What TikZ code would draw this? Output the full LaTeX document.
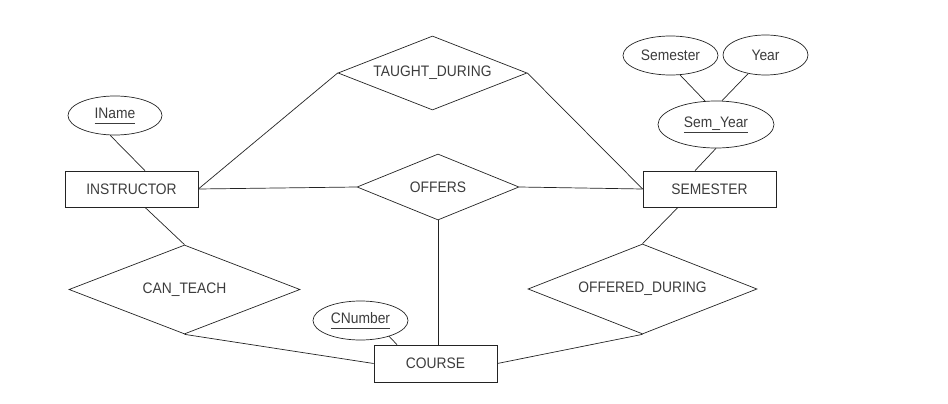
\documentclass[tikz,border=0pt]{standalone}
\usepackage{fontspec}
\setmainfont{Liberation Sans}[FakeStretch=0.91]
\usetikzlibrary{shapes.geometric}
\definecolor{erline}{RGB}{35,35,35}
\definecolor{ertext}{RGB}{60,60,60}
\newcommand{\keyattr}[1]{\underline{#1\vphantom{y}}}

\begin{document}
\begin{tikzpicture}[x=1pt,y=-1pt,font=\fontsize{15.2}{17}\selectfont,
base/.style={draw=erline,line width=0.7pt,inner sep=1pt,text=ertext},
entity/.style={base,rectangle,minimum width=133pt,minimum height=36pt},
attr/.style={base,ellipse,minimum width=94pt,minimum height=39pt},
rel/.style={base,diamond,aspect=2.5},
link/.style={draw=erline,line width=0.7pt}]
\useasboundingbox (0,0) rectangle (948,404);
% entities
\node[entity] (inst) at (131.5,189) {INSTRUCTOR};
\node[entity] (sem) at (709.5,189) {SEMESTER};
\node[entity,minimum width=123pt,minimum height=37pt] (course) at (435.5,363.5) {COURSE};
% attributes
\node[attr] (iname) at (115,115.5) {\keyattr{IName}};
\node[attr,minimum width=95pt] (cnum) at (360.5,320.5) {\keyattr{CNumber}};
\node[attr,minimum width=95pt] (semname) at (670.5,55.5) {Semester};
\node[attr,minimum width=85pt,minimum height=40pt] (year) at (765.5,55) {Year};
\node[attr,minimum width=116pt,minimum height=47pt] (semyear) at (716,124.5) {\keyattr{Sem\_Year}};
% relationships
\node[rel,minimum width=189pt,minimum height=74pt] (taught) at (432.5,73) {TAUGHT\_DURING};
\node[rel,minimum width=162pt,minimum height=66pt] (offers) at (438,187) {OFFERS};
\node[rel,minimum width=231pt,minimum height=89pt] (canteach) at (184.5,289.5) {CAN\_TEACH};
\node[rel,minimum width=229pt,minimum height=90pt] (offdur) at (642.5,289) {OFFERED\_DURING};
% connectors
\draw[link] (iname.-104) -- ([xshift=13.5pt]inst.north);
\draw[link] ([xshift=13.5pt]inst.south) -- (canteach.north);
\draw[link] (inst.east) -- (taught.west);
\draw[link] (inst.east) -- (offers.west);
\draw[link] (taught.east) -- (sem.west);
\draw[link] (offers.east) -- (sem.west);
\draw[link] (offers.south) -- (offers.south |- course.north);
\draw[link] (canteach.south) -- (course.west);
\draw[link] (cnum.-29) -- ([xshift=-38.5pt]course.north);
\draw[link] (course.east) -- (offdur.south);
\draw[link] ([xshift=-31.5pt]sem.south) -- (offdur.north);
\draw[link] (semyear.south) -- ([xshift=-14.5pt]sem.north);
\draw[link] (semname.-64) -- (semyear.115);
\draw[link] (year.-133) -- (semyear.76);
\end{tikzpicture}
\end{document}
